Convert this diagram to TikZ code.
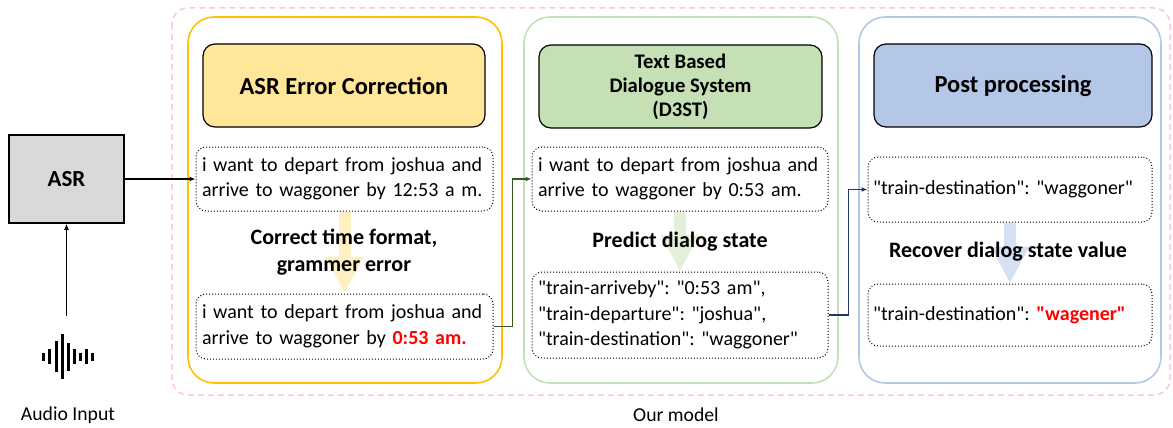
\documentclass[tikz,border=0pt]{standalone}
\usepackage{fontspec}
\setmainfont{Carlito}
\usetikzlibrary{arrows.meta}
\definecolor{ylwline}{HTML}{FFC000}
\definecolor{ylwfill}{HTML}{FFE699}
\definecolor{ylwfade}{HTML}{FFF0C4}
\definecolor{grnline}{HTML}{C5E0B4}
\definecolor{grnfill}{HTML}{C5E0B4}
\definecolor{grnfade}{HTML}{E2F0D9}
\definecolor{grnlink}{HTML}{385723}
\definecolor{bluline}{HTML}{B4C7E7}
\definecolor{blufill}{HTML}{B4C7E7}
\definecolor{blufade}{HTML}{D6E0F3}
\definecolor{blulink}{HTML}{203864}
\definecolor{pinkline}{HTML}{FFC9C9}
\definecolor{asrgray}{HTML}{D9D9D9}
\definecolor{errred}{HTML}{FF0000}
\newcommand{\dq}{\textquotedbl}
\newcommand{\oneline}[1]{\mbox{#1}}

\begin{document}
\frenchspacing
\begin{tikzpicture}[x=1pt,y=-1pt,>={Latex[length=6pt,width=5pt]}]
\tikzset{
 panel/.style={line width=1.6pt,rounded corners=26pt},
 head/.style={draw,line width=1.2pt,rounded corners=12pt,minimum height=83pt,align=center,font=\fontsize{24.5}{28}\selectfont\bfseries},
 sent/.style={draw,dotted,line width=1pt,rounded corners=10pt,fill=white,align=left,inner xsep=6pt,font=\fontsize{20}{25.5}\selectfont},
 note/.style={align=center,font=\fontsize{22}{27}\selectfont\bfseries},
 bigarrow/.style={line width=12pt,-{Triangle[length=37pt,width=36pt]}},
 link/.style={->,line width=1.6pt}
}
\useasboundingbox (0,0) rectangle (1173,428);
\draw[pinkline,dashed,line width=1.5pt,dash pattern=on 6pt off 4pt,rounded corners=16pt] (172,8) rectangle (1170,395);
\draw[panel,ylwline] (188,17) rectangle (502,383);
\draw[panel,grnline] (524,17) rectangle (838,383);
\draw[panel,bluline] (859,17) rectangle (1161,383);

\node[draw,fill=asrgray,line width=1.5pt,minimum width=115pt,minimum height=88pt,font=\fontsize{23}{26}\selectfont\bfseries] (asr) at (66.5,179) {ASR};
\foreach \i/\h in {0/8,1/15,2/31,3/45,4/28,5/15,6/8,7/15,8/8}
  \fill (42.3+6.1*\i,356.5-\h/2) rectangle ++(3,\h);
\coordinate (mic) at (66.5,316);
\draw[link] (mic) -- (asr.south);
\node[font=\fontsize{19.7}{23}\selectfont] (audio) at (68,415) {Audio Input};

\node[head,fill=ylwfill,minimum width=282pt] (hA) at (344,85.5) {ASR Error Correction};
\node[sent,minimum width=297pt,text width=285pt,minimum height=64pt] (tA1) at (344.5,179) {\oneline{i want to depart from joshua and}\\\oneline{arrive to waggoner by 12:53 a m.}};
\node[sent,minimum width=297pt,text width=285pt,minimum height=65pt] (tA2) at (344.5,326.5) {\oneline{i want to depart from joshua and}\\\oneline{arrive to waggoner by \textcolor{errred}{\bfseries 0:53 am.}}};
\draw[bigarrow,ylwfade] (tA1.south) -- (tA2.north);
\node[note] (nA) at (344,252) {Correct time format,\\grammer error};

\node[head,fill=grnfill,minimum width=283pt,font=\fontsize{20.7}{24}\selectfont\bfseries] (hB) at (680.5,86.5) {Text Based\\Dialogue System\\(D3ST)};
\node[sent,minimum width=296pt,text width=284pt,minimum height=64pt] (tB1) at (680,179) {\oneline{i want to depart from joshua and}\\\oneline{arrive to waggoner by 0:53 am.}};
\node[sent,minimum width=296pt,text width=284pt,minimum height=86pt] (tB2) at (680,315) {\oneline{\dq train-arriveby\dq: \dq 0:53 am\dq,}\\\oneline{\dq train-departure\dq: \dq joshua\dq,}\\\oneline{\dq train-destination\dq: \dq waggoner\dq}};
\draw[bigarrow,grnfade] (tB1.south) -- (tB2.north);
\node[note] (nB) at (680,242) {Predict dialog state};

\node[head,fill=blufill,minimum width=278pt] (hC) at (1013,85.5) {Post processing};
\node[sent,minimum width=284pt,text width=274pt,inner xsep=5pt,minimum height=65pt] (tC1) at (1010,189.5) {\oneline{\dq train-destination\dq: \dq waggoner\dq}};
\node[sent,minimum width=284pt,text width=274pt,inner xsep=5pt,minimum height=62pt] (tC2) at (1010,315) {\oneline{\dq train-destination\dq: \textcolor{errred}{\bfseries\dq wagener\dq}}};
\draw[bigarrow,blufade] (tC1.south) -- (tC2.north);
\node[note] (nC) at (1008,252) {Recover dialog state value};

\node[font=\fontsize{19.7}{23}\selectfont] (model) at (676,415) {Our model};

\draw[link] (asr) -- (tA1);
\draw[link,grnlink] (tA2.east) -- ++(19,0) |- (tB1.west);
\draw[link,blulink] (tB2.east) -- ++(20,0) |- (tC1.west);
\end{tikzpicture}
\end{document}
